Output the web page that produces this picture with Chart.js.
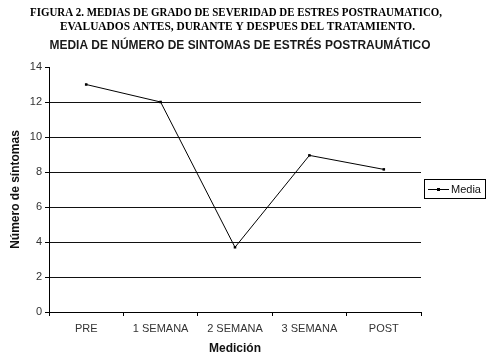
<!DOCTYPE html>
<html>
<head>
<meta charset="utf-8">
<script src="https://cdn.jsdelivr.net/npm/chart.js@4/dist/chart.umd.min.js"></script>
<style>
  html, body { margin: 0; padding: 0; background: #fff; }
  #wrap { width: 490px; height: 357px; position: relative; }
</style>
</head>
<body>
<div id="wrap"><canvas id="c" width="490" height="357"></canvas></div>
<script>
const captionLines = [
  'FIGURA 2. MEDIAS DE GRADO DE SEVERIDAD DE ESTRES POSTRAUMATICO,',
  'EVALUADOS ANTES, DURANTE Y DESPUES DEL TRATAMIENTO.'
];
const chartTitle = 'MEDIA DE NÚMERO DE SINTOMAS DE ESTRÉS POSTRAUMÁTICO';
const categories = ['PRE', '1 SEMANA', '2 SEMANA', '3 SEMANA', 'POST'];
const seriesName = 'Media';
const mediaValues = [13, 12, 3.7, 8.95, 8.15];
const yTitle = 'Número de síntomas';
const xTitle = 'Medición';

const headerPlugin = {
  id: 'header',
  afterDraw(chart) {
    const ctx = chart.ctx;
    ctx.save();
    ctx.fillStyle = '#000';
    ctx.textAlign = 'center';
    ctx.textBaseline = 'middle';
    ctx.font = 'bold 13px "Liberation Serif", "Times New Roman", serif';
    ctx.fillText(captionLines[0], 236, 13, 412);
    ctx.fillText(captionLines[1], 237.5, 27, 355);
    ctx.fillStyle = '#1a1a1a';
    ctx.font = 'bold 12.5px "Liberation Sans", Arial, sans-serif';
    ctx.fillText(chartTitle, 240, 46, 381);
    ctx.restore();
  }
};

const legendBoxPlugin = {
  id: 'legendBox',
  afterDraw(chart) {
    const ctx = chart.ctx;
    const a = chart.chartArea;
    const x0 = Math.round(a.right) + 3;
    const yc = Math.round((a.top + a.bottom) / 2) - 1;
    ctx.save();
    ctx.strokeStyle = '#000';
    ctx.lineWidth = 1;
    ctx.strokeRect(x0 + 0.5, yc - 10 + 0.5, 61, 19);
    ctx.beginPath();
    ctx.moveTo(x0 + 4, yc + 0.5);
    ctx.lineTo(x0 + 25, yc + 0.5);
    ctx.stroke();
    ctx.fillStyle = '#000';
    ctx.fillRect(x0 + 13, yc - 1, 3, 3);
    ctx.font = '11px "Liberation Sans", Arial, sans-serif';
    ctx.textAlign = 'left';
    ctx.textBaseline = 'middle';
    ctx.fillStyle = '#111';
    ctx.fillText(chart.data.datasets[0].label, x0 + 27, yc + 1);
    ctx.restore();
  }
};

new Chart(document.getElementById('c'), {
  type: 'line',
  data: {
    labels: categories,
    datasets: [{
      label: seriesName,
      data: mediaValues,
      borderColor: '#000',
      backgroundColor: '#000',
      borderWidth: 1,
      tension: 0,
      pointStyle: 'rect',
      pointRadius: 1.8,
      pointBackgroundColor: '#000',
      pointBorderColor: '#000',
      pointBorderWidth: 0
    }]
  },
  options: {
    responsive: false,
    animation: false,
    devicePixelRatio: 1,
    layout: { padding: { top: 67, right: 69, left: 0, bottom: 0 } },
    plugins: {
      legend: { display: false },
      title: { display: false },
      tooltip: { enabled: false }
    },
    scales: {
      x: {
        type: 'category',
        offset: true,
        afterFit(s) { s.height = 45; },
        grid: {
          offset: true,
          drawOnChartArea: false,
          drawTicks: true,
          tickLength: 4,
          tickColor: '#000'
        },
        border: { display: true, color: '#000', width: 1 },
        ticks: {
          color: '#333',
          padding: 6,
          maxRotation: 0,
          autoSkip: false,
          font: { family: '"Liberation Sans", Arial, sans-serif', size: 11 }
        },
        title: {
          display: true,
          text: xTitle,
          color: '#111',
          padding: { top: 0, bottom: 1 },
          font: { family: '"Liberation Sans", Arial, sans-serif', size: 12, weight: 'bold' }
        }
      },
      y: {
        min: 0,
        max: 14,
        afterFit(s) { s.width = 49; },
        grid: {
          color: (c) => (c.tick && c.tick.value === 14) ? 'rgba(0,0,0,0)' : '#111',
          lineWidth: 1,
          drawTicks: true,
          tickLength: 4,
          tickColor: '#000'
        },
        border: { display: true, color: '#000', width: 1 },
        ticks: {
          stepSize: 2,
          color: '#333',
          padding: 3,
          font: { family: '"Liberation Sans", Arial, sans-serif', size: 11 }
        },
        title: {
          display: true,
          text: yTitle,
          color: '#111',
          padding: { top: 8, bottom: 0 },
          font: { family: '"Liberation Sans", Arial, sans-serif', size: 12, weight: 'bold' }
        }
      }
    }
  },
  plugins: [headerPlugin, legendBoxPlugin]
});
</script>
</body>
</html>
